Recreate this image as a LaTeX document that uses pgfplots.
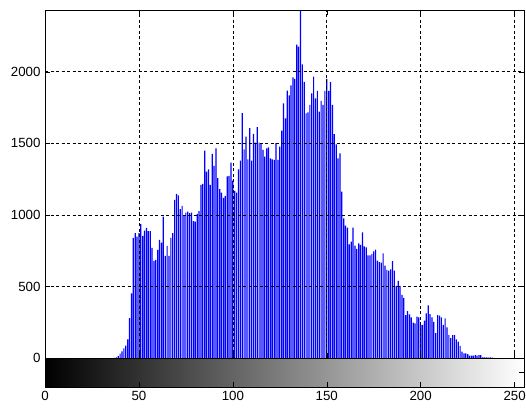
\documentclass[border=0pt]{standalone}
\usepackage{fontspec}
\setmainfont{Liberation Sans}
\usepackage{pgfplots}
\usepackage{pgfplotstable}
\pgfplotsset{compat=1.18}
\pgfplotstableread{
v c
37 3
38 7
39 16
40 33
41 49
42 70
43 88
44 133
45 280
46 454
47 840
48 873
49 850
50 873
51 936
52 854
53 892
54 910
55 887
56 887
57 771
58 680
59 687
60 757
61 826
62 808
63 989
64 715
65 785
66 715
67 840
68 873
69 1106
70 1148
71 1138
72 1041
73 1064
74 999
75 1017
76 1024
77 1013
78 1017
79 957
80 954
81 1008
82 1027
83 1210
84 1218
85 1450
86 1303
87 1319
88 1210
89 1426
90 1343
91 1466
92 1257
93 1180
94 1157
95 1120
96 1134
97 1269
98 1273
99 1366
100 1240
101 1168
102 1157
103 1319
104 1380
105 1711
106 1459
107 1548
108 1389
109 1606
110 1380
111 1566
112 1506
113 1613
114 1506
115 1496
116 1454
117 1408
118 1466
119 1473
120 1396
121 1389
122 1385
123 1501
124 1385
125 1478
126 1589
127 1780
128 1675
129 1868
130 1835
131 1905
132 1960
133 1950
134 2190
135 2175
136 2431
137 2051
138 1929
139 1710
140 1717
141 1768
142 1849
143 1966
144 1815
145 1866
146 1722
147 1796
148 1768
149 1866
150 1950
151 1866
152 1927
153 1768
154 1564
155 1494
156 1396
157 1431
158 1164
159 977
160 926
161 912
162 795
163 814
164 912
165 786
166 763
167 802
168 791
169 879
170 781
171 774
172 719
173 719
174 728
175 747
176 758
177 681
178 672
179 668
180 733
181 647
182 617
183 612
184 621
185 679
186 612
187 505
188 540
189 505
190 442
191 421
192 302
193 330
194 307
195 286
196 249
197 244
198 291
199 286
200 233
201 233
202 263
203 314
204 370
205 309
206 286
207 254
208 175
209 302
210 298
211 286
212 233
213 279
214 216
215 163
216 140
217 161
218 163
219 133
220 116
221 86
222 47
223 35
224 35
225 30
226 19
227 19
228 19
229 23
230 19
231 23
232 23
233 7
234 7
235 7
236 5
237 6
238 4
239 3
}\histdata
\begin{document}
\begin{tikzpicture}
\pgfplotsset{
  every axis/.append style={
    scale only axis,
    width=479pt,
    anchor=south west,
    xmin=0, xmax=255,
    tick align=inside,
    major tick length=5pt,
    tick style={black, line width=0.5pt},
    axis line style={black, line width=0.7pt},
    tick label style={font=\fontsize{13.3}{16}\selectfont},
    /pgf/number format/assume math mode=true,
    /pgf/number format/1000 sep={},
  }
}
% histogram axis
\begin{axis}[
  at={(45pt,49.7pt)},
  height=348.3pt,
  ymin=0, ymax=2431,
  xtick={0,50,...,250},
  xticklabels={},
  ytick={0,500,1000,1500,2000},
  yticklabel style={xshift=-1pt},
  grid=major,
  major grid style={black, line width=0.6pt, dash pattern=on 3pt off 2.5pt},
  axis on top,
]
\addplot[ybar, bar width=1.2pt, fill=blue, draw=none] table[x=v, y=c] {\histdata};
\end{axis}
% grayscale colorbar axis
\begin{axis}[
  at={(45pt,21pt)},
  height=28.7pt,
  ymin=0, ymax=1,
  xtick={0,50,...,250},
  xtick pos=bottom,
  ytick={0.5},
  yticklabels={},
  ytick pos=right,
  xticklabel style={yshift=-1pt},
  axis on top,
]
\fill[left color=black, right color=white] (axis cs:0,0) rectangle (axis cs:255,1);
\end{axis}
\pgfresetboundingbox
\useasboundingbox (0,0) rectangle (526pt,408pt);
\end{tikzpicture}
\end{document}
